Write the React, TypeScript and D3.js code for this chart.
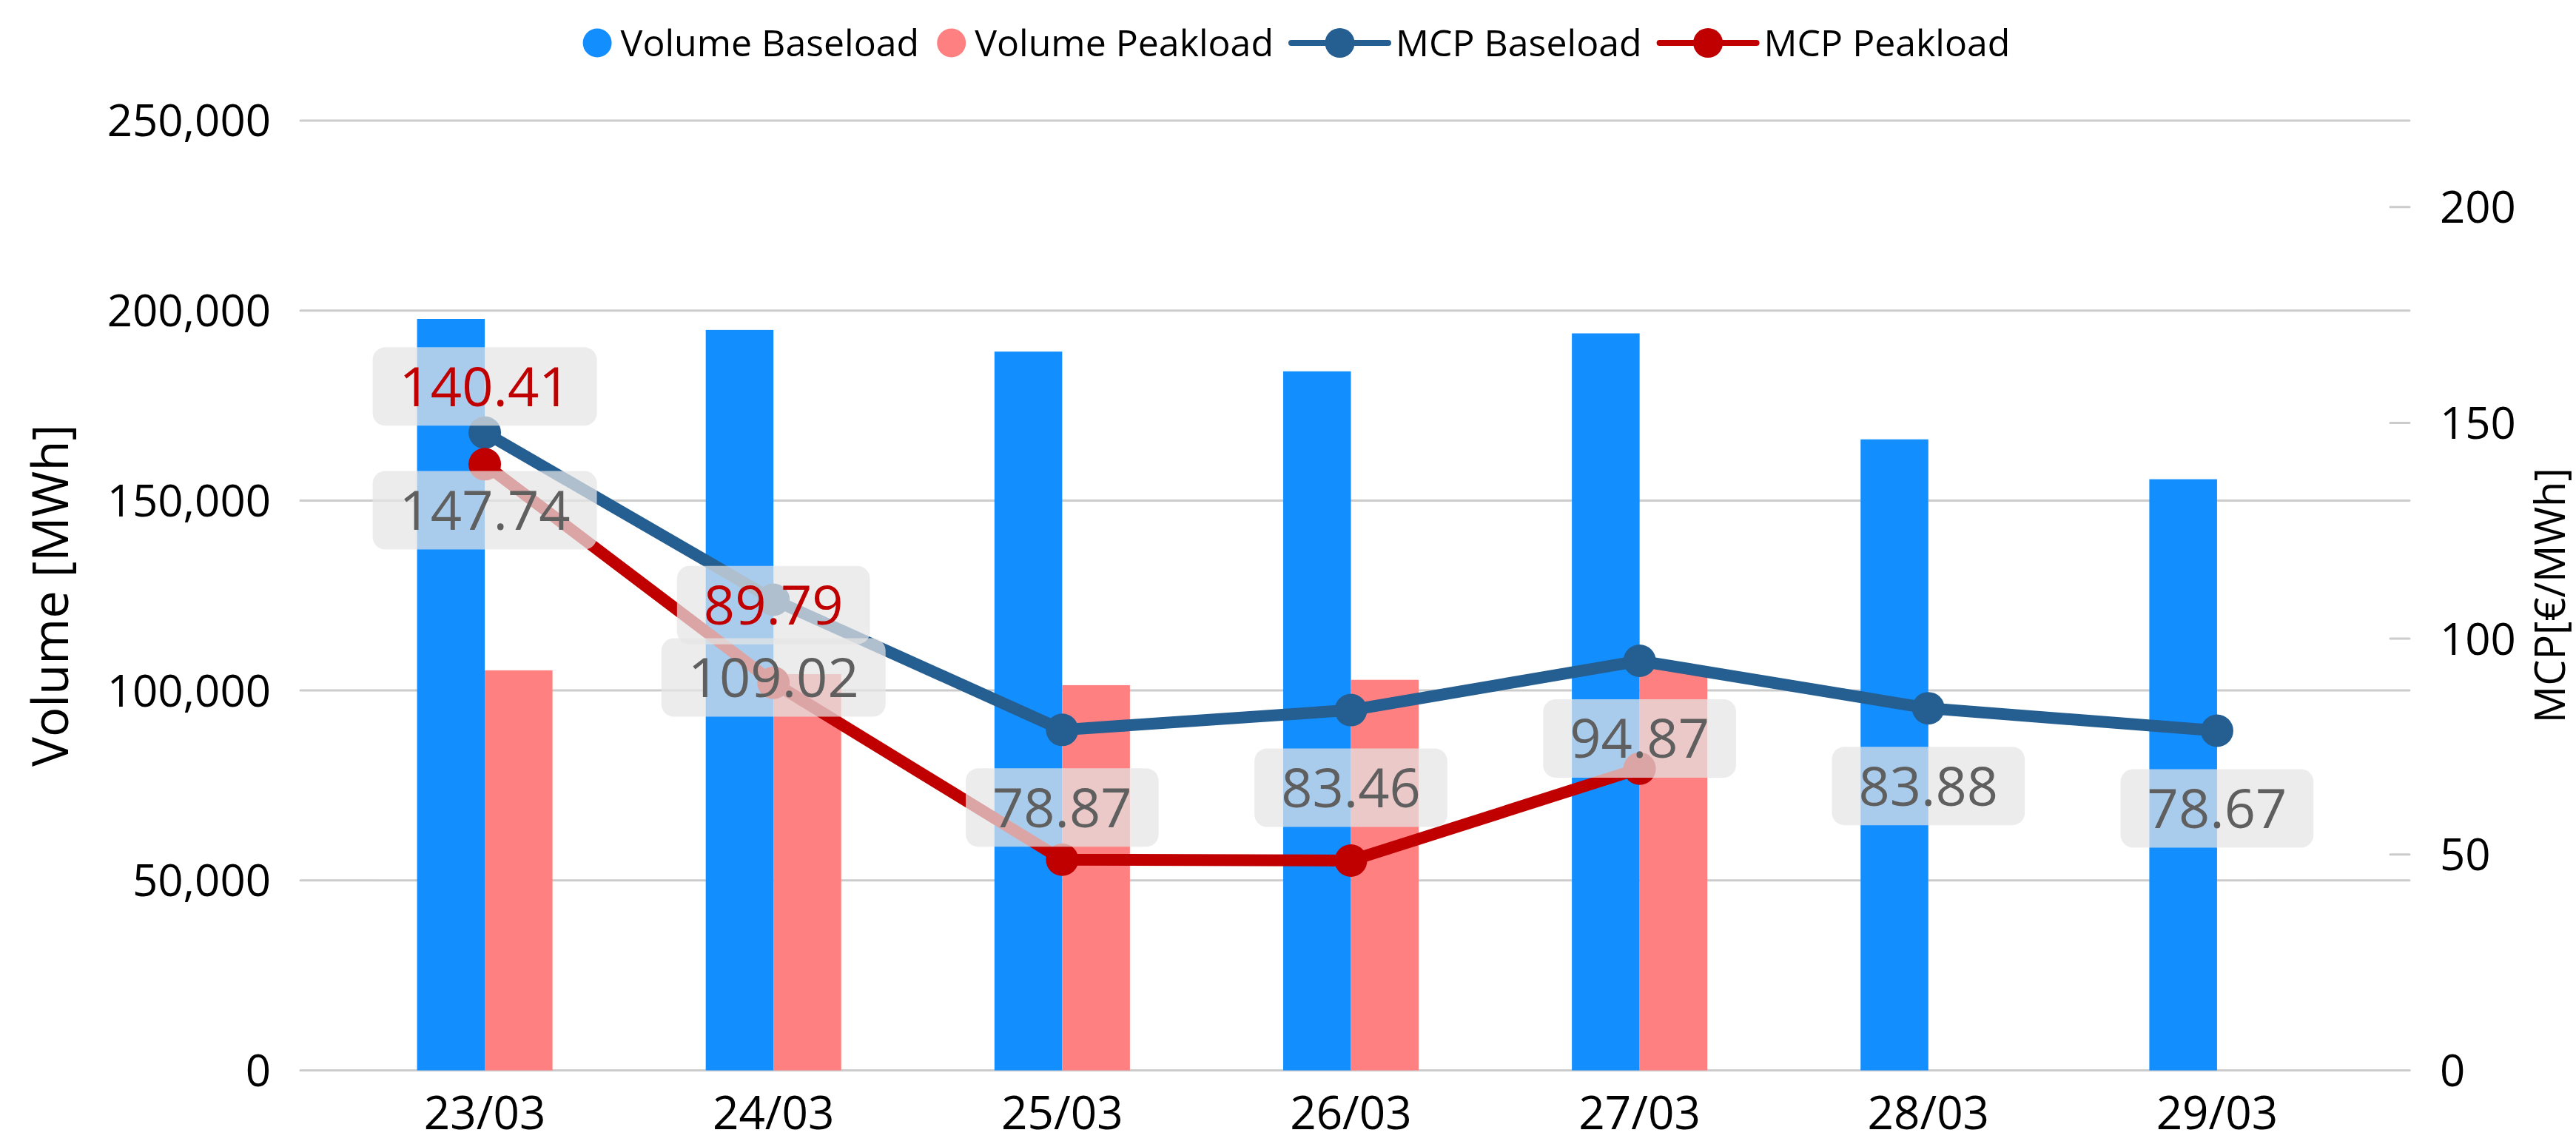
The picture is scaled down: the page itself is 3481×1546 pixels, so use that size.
import * as d3 from "d3";
import React, { useEffect, useRef } from "react";

// data
const categories = ["23/03", "24/03", "25/03", "26/03", "27/03", "28/03", "29/03"];
const volumeBaseload = [197800, 194900, 189200, 184000, 194000, 166100, 155600];
const volumePeakload = [105300, 104300, 101400, 102800, 106000, null, null];
const mcpBaseload = [147.74, 109.02, 78.87, 83.46, 94.87, 83.88, 78.67];
const mcpPeakload = [140.41, 89.79, 48.8, 48.6, 69.9, null, null];
const volumeTicks = [0, 50000, 100000, 150000, 200000, 250000];
const priceTicks = [0, 50, 100, 150, 200];

const W = 3481;
const H = 1546;
const FONT = "'Open Sans', 'Noto Sans', sans-serif";

const legendItems = [
  { name: "Volume Baseload", color: "#138eff", kind: "bar" },
  { name: "Volume Peakload", color: "#ff8080", kind: "bar" },
  { name: "MCP Baseload", color: "#255e91", kind: "line" },
  { name: "MCP Peakload", color: "#c00000", kind: "line" },
];

type Sel = d3.Selection<SVGSVGElement, unknown, null, undefined>;

function draw(svg: Sel) {
  const margin = { left: 406, right: W - 3256, top: 163, bottom: H - 1446.5 };
  const plotRight = W - margin.right;
  const plotBottom = H - margin.bottom;

  // scales
  const x = d3.scaleBand().domain(categories).range([460, 3191]);
  const yL = d3.scaleLinear().domain([0, 250000]).range([plotBottom, margin.top]);
  const yR = d3.scaleLinear().domain([0, 220]).range([plotBottom, margin.top]);
  const cx = (c: string) => (x(c) as number) + x.bandwidth() / 2;
  const barW = x.bandwidth() * 0.2346;

  // grid + left axis
  const grid = svg.append("g");
  volumeTicks.forEach(t => {
    grid.append("line")
      .attr("x1", margin.left).attr("x2", plotRight)
      .attr("y1", yL(t)).attr("y2", yL(t))
      .attr("stroke", "#cccccc").attr("stroke-width", 3)
      .attr("stroke-linecap", "round");
    grid.append("text")
      .attr("x", 366).attr("y", yL(t) + 60 * 0.357)
      .attr("text-anchor", "end")
      .style("font-family", FONT).style("font-size", "60px")
      .attr("fill", "#000")
      .text(d3.format(",")(t));
  });

  // right axis
  priceTicks.forEach(t => {
    grid.append("line")
      .attr("x1", plotRight - 26).attr("x2", plotRight)
      .attr("y1", yR(t)).attr("y2", yR(t))
      .attr("stroke", "#cccccc").attr("stroke-width", 3)
      .attr("stroke-linecap", "round");
    grid.append("text")
      .attr("x", 3297).attr("y", yR(t) + 60 * 0.357)
      .style("font-family", FONT).style("font-size", "60px")
      .attr("fill", "#000")
      .text(String(t));
  });

  // axis titles
  svg.append("text")
    .attr("transform", `translate(92, ${(margin.top + plotBottom) / 2}) rotate(-90)`)
    .attr("text-anchor", "middle")
    .style("font-family", FONT).style("font-size", "67px")
    .text("Volume [MWh]");
  svg.append("text")
    .attr("transform", `translate(3466, ${(margin.top + plotBottom) / 2}) rotate(-90)`)
    .attr("text-anchor", "middle")
    .style("font-family", FONT).style("font-size", "56px")
    .text("MCP[€/MWh]");

  // x labels
  categories.forEach(c => {
    svg.append("text")
      .attr("x", cx(c)).attr("y", 1526)
      .attr("text-anchor", "middle")
      .style("font-family", FONT).style("font-size", "62px")
      .text(c);
  });

  // bars
  const bars = svg.append("g");
  categories.forEach((c, i) => {
    const vb = volumeBaseload[i];
    bars.append("rect")
      .attr("x", cx(c) - barW).attr("width", barW)
      .attr("y", yL(vb)).attr("height", yL(0) - yL(vb))
      .attr("fill", legendItems[0].color);
    const vp = volumePeakload[i];
    if (vp != null) {
      bars.append("rect")
        .attr("x", cx(c)).attr("width", barW)
        .attr("y", yL(vp)).attr("height", yL(0) - yL(vp))
        .attr("fill", legendItems[1].color);
    }
  });

  // lines
  const lineSeries = [
    { values: mcpBaseload, color: legendItems[2].color },
    { values: mcpPeakload, color: legendItems[3].color },
  ];
  const line = d3.line<number | null>()
    .defined(d => d != null)
    .x((d, i) => cx(categories[i]))
    .y(d => yR(d as number));
  lineSeries.forEach(s => {
    svg.append("path")
      .attr("d", line(s.values))
      .attr("fill", "none")
      .attr("stroke", s.color)
      .attr("stroke-width", 16)
      .attr("stroke-linejoin", "round");
    s.values.forEach((v, i) => {
      if (v == null) return;
      svg.append("circle")
        .attr("cx", cx(categories[i])).attr("cy", yR(v))
        .attr("r", 22).attr("fill", s.color);
    });
  });

  // data labels: baseload below point, peakload above; peakload hidden on overlap
  const fs = 74, padX = 36, padY = 16, dist = 52;
  const boxH = fs + padY * 2;
  const labelLayer = svg.append("g");
  const placed: { x0: number; x1: number; y0: number; y1: number }[] = [];

  const addLabel = (v: number, i: number, below: boolean, color: string, check: boolean) => {
    const px = cx(categories[i]);
    const py = yR(v);
    const top = below ? py + dist : py - dist - boxH;
    const g = labelLayer.append("g");
    const rect = g.append("rect");
    const txt = g.append("text")
      .attr("x", px).attr("y", top + boxH / 2 + fs * 0.357)
      .attr("text-anchor", "middle")
      .style("font-family", FONT).style("font-size", `${fs}px`)
      .attr("fill", color)
      .text(v.toFixed(2));
    const tw = (txt.node() as SVGTextElement).getComputedTextLength();
    const inner = { x0: px - tw / 2, x1: px + tw / 2, y0: top + padY, y1: top + boxH - padY };
    if (check && placed.some(b => b.x0 < inner.x1 && inner.x0 < b.x1 && b.y0 < inner.y1 && inner.y0 < b.y1)) {
      g.remove();
      return;
    }
    placed.push(inner);
    rect.attr("x", px - tw / 2 - padX).attr("y", top)
      .attr("width", tw + padX * 2).attr("height", boxH)
      .attr("rx", 17)
      .attr("fill", "rgba(228,228,228,0.72)");
  };
  mcpBaseload.forEach((v, i) => addLabel(v, i, true, "#5f5f5f", false));
  mcpPeakload.forEach((v, i) => { if (v != null) addLabel(v, i, false, "#c00000", true); });

  // legend
  const legend = svg.append("g");
  const ly = 58;
  let lx = 0;
  legendItems.forEach((it, k) => {
    const iconW = it.kind === "bar" ? 39 : 131;
    const gap = it.kind === "bar" ? 12 : 10;
    const item = legend.append("g").attr("transform", `translate(${lx},0)`);
    if (it.kind === "bar") {
      item.append("circle").attr("cx", iconW / 2).attr("cy", ly).attr("r", 19.5).attr("fill", it.color);
    } else {
      item.append("line").attr("x1", 0).attr("x2", iconW).attr("y1", ly).attr("y2", ly)
        .attr("stroke", it.color).attr("stroke-width", 8).attr("stroke-linecap", "round");
      item.append("circle").attr("cx", iconW / 2).attr("cy", ly).attr("r", 20).attr("fill", it.color);
    }
    const t = item.append("text")
      .attr("x", iconW + gap).attr("y", ly + 50 * 0.357)
      .style("font-family", FONT).style("font-size", "50px")
      .text(it.name);
    const tw = (t.node() as SVGTextElement).getComputedTextLength();
    lx += iconW + gap + tw + (k < legendItems.length - 1 ? 24 : 0);
  });
  legend.attr("transform", `translate(${1752 - lx / 2},0)`);
}

export default function App() {
  const ref = useRef<SVGSVGElement>(null);
  useEffect(() => {
    const svg = d3.select(ref.current as SVGSVGElement);
    svg.selectAll("*").remove();
    draw(svg as Sel);
  }, []);
  return (
    <svg
      ref={ref}
      width={W}
      height={H}
      style={{ position: "absolute", left: 0, top: 0, background: "#fff" }}
    />
  );
}
